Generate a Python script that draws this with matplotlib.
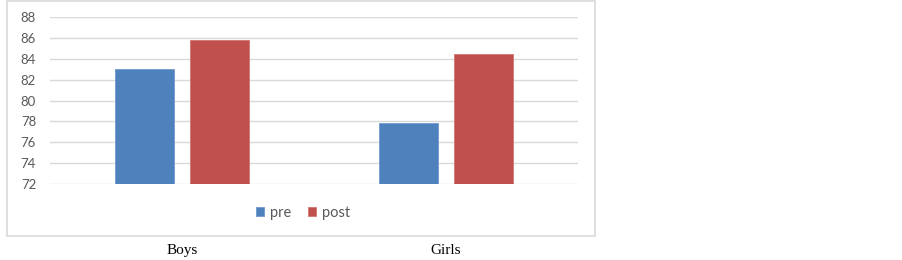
import matplotlib
matplotlib.use("Agg")
import matplotlib.pyplot as plt
import numpy as np
from matplotlib.patches import Rectangle

# ── data ──────────────────────────────────────────────────────────────────────
categories = ["Boys", "Girls"]
series_names = ["pre", "post"]
pre_values = [83.0, 77.8]
post_values = [85.8, 84.5]
y_ticks = [72, 74, 76, 78, 80, 82, 84, 86, 88]

BLUE = "#4F81BD"
RED = "#C0504D"
GRID = "#D9D9D9"
TEXT = "#595959"

W, H = 902, 260

fig = plt.figure(figsize=(W / 100, H / 100), dpi=100)
fig.patch.set_facecolor("white")

# outer chart frame
fig.patches.append(Rectangle((7 / W, 1 - 236 / H), (595 - 7) / W, (236 - 1) / H,
                             transform=fig.transFigure, fill=False,
                             edgecolor=GRID, linewidth=1.2))

ax = fig.add_axes([50 / W, 1 - 184 / H, (578 - 50) / W, (184 - 17) / H])

x = np.arange(len(categories))
bw = 0.224
gap = 0.06
off = (bw + gap) / 2
b1 = ax.bar(x - off, np.array(pre_values) - 72, bw, bottom=72, color=BLUE,
            edgecolor="#6F9AD0", linewidth=0.6, label=series_names[0])
b2 = ax.bar(x + off, np.array(post_values) - 72, bw, bottom=72, color=RED,
            edgecolor="#D07572", linewidth=0.6, label=series_names[1])

ax.set_xlim(-0.5, len(categories) - 0.5)
ax.set_ylim(72, 88)
ax.set_yticks(y_ticks)
ax.set_yticklabels([str(t) for t in y_ticks], fontfamily="Lato",
                   fontsize=9.5, color=TEXT)
ax.tick_params(axis="y", length=0, pad=10)
ax.set_xticks([])
ax.yaxis.grid(True, color=GRID, linewidth=1)
ax.set_axisbelow(True)
for s in ax.spines.values():
    s.set_visible(False)

# category labels sit below the frame
for xi, name in zip(x, categories):
    ax.text(xi, -0.40, name, transform=ax.get_xaxis_transform(),
            ha="center", va="center", fontfamily="Liberation Serif",
            fontsize=11, color="black")

fig.legend(handles=[b1, b2], labels=series_names, loc="center",
           bbox_to_anchor=(303 / W, 1 - 213 / H), ncol=2, frameon=False,
           handlelength=0.6, handleheight=0.6, handletextpad=0.4,
           columnspacing=1.1, prop={"family": "Lato", "size": 10.5},
           labelcolor=TEXT)

fig.savefig("out.png", dpi=100)
